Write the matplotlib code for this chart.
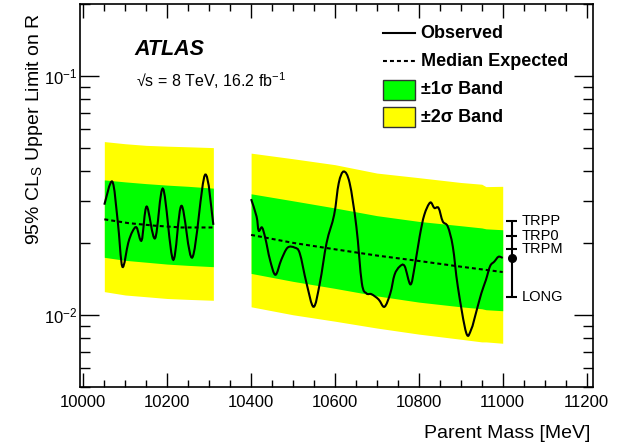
import numpy as np
import matplotlib
matplotlib.use("Agg")
import matplotlib.pyplot as plt
from matplotlib.ticker import MultipleLocator, LogLocator
from matplotlib.patches import Rectangle, PathPatch
from matplotlib.path import Path

plt.rcParams['font.family'] = ['Liberation Sans', 'DejaVu Sans']
plt.rcParams['mathtext.fontset'] = 'custom'
plt.rcParams['mathtext.rm'] = 'Liberation Sans'
plt.rcParams['mathtext.it'] = 'Liberation Sans:italic'
plt.rcParams['mathtext.bf'] = 'Liberation Sans:bold'

# first mass window
m1_band = [10050, 10100, 10150, 10200, 10250, 10310]
y1_2up = [0.0531, 0.0520, 0.0512, 0.0508, 0.0505, 0.0501]
y1_1up = [0.0367, 0.0360, 0.0354, 0.0349, 0.0345, 0.0339]
y1_1dn = [0.0174, 0.0169, 0.0166, 0.0163, 0.0161, 0.0159]
y1_2dn = [0.0125, 0.0121, 0.0119, 0.0117, 0.0116, 0.0115]
m1_exp = [10050, 10107, 10171, 10234, 10310]
y1_exp = [0.0251, 0.0242, 0.0236, 0.0232, 0.0232]
m1_obs = [10050, 10069, 10082, 10093, 10107, 10117, 10127, 10139, 10151,
          10171, 10190, 10214, 10234, 10260, 10290, 10310]
y1_obs = [0.0289, 0.0361, 0.0246, 0.0159, 0.0200, 0.0223, 0.0232, 0.0205,
          0.0284, 0.0209, 0.0337, 0.0170, 0.0286, 0.0174, 0.0385, 0.0238]

# second mass window
m2_band = [10400, 10500, 10600, 10700, 10800, 10900, 10950, 10960, 11000]
y2_2up = [0.0475, 0.0450, 0.0425, 0.0392, 0.0375, 0.0358, 0.0352, 0.0344, 0.0345]
y2_1up = [0.0321, 0.0300, 0.0280, 0.0260, 0.0246, 0.0236, 0.0231, 0.0229, 0.0227]
y2_1dn = [0.0149, 0.0138, 0.0129, 0.0120, 0.0113, 0.0108, 0.0106, 0.0105, 0.0104]
y2_2dn = [0.0108, 0.0100, 0.0094, 0.0088, 0.0083, 0.0079, 0.0077, 0.0077, 0.0076]
m2_exp = [10400, 10500, 10600, 10700, 10800, 10900, 11000]
y2_exp = [0.0216, 0.0200, 0.0188, 0.0177, 0.0168, 0.0159, 0.0151]
m2_obs = [10400, 10413, 10418, 10426, 10434, 10445, 10458, 10472, 10487,
          10504, 10516, 10532, 10549, 10564, 10580, 10598, 10609, 10621,
          10635, 10651, 10664, 10675, 10687, 10704, 10718, 10732, 10742,
          10754, 10766, 10780, 10790, 10802, 10813, 10827, 10837, 10847,
          10857, 10869, 10881, 10893, 10913, 10925, 10937, 10949, 10960,
          10970, 10980, 10990, 11000]
y2_obs = [0.0305, 0.0258, 0.0225, 0.0232, 0.0209, 0.0170, 0.0147, 0.0170,
          0.0191, 0.0191, 0.0181, 0.0136, 0.0108, 0.0136, 0.0200, 0.0262,
          0.0356, 0.0398, 0.0356, 0.0234, 0.0136, 0.0123, 0.0122, 0.0116,
          0.0108, 0.0123, 0.0147, 0.0159, 0.0160, 0.0134, 0.0159, 0.0213,
          0.0262, 0.0295, 0.0280, 0.0280, 0.0246, 0.0234, 0.0193, 0.0131,
          0.0084, 0.0087, 0.0103, 0.0123, 0.0140, 0.0160, 0.0167, 0.0175,
          0.0173]

# theory predictions
pred_m = 11022
pred_centre = 0.0173
pred_names = ['TRPP', 'TRP0', 'TRPM', 'LONG']
pred_vals = [0.0248, 0.0214, 0.0188, 0.0119]


def smooth(xs, ys):
    # smooth curve through the points (bezier segments in x, log y)
    p = np.column_stack([np.asarray(xs, float), np.log10(ys)])
    n = len(p)
    verts = [p[0]]
    codes = [Path.MOVETO]
    for i in range(n - 1):
        a = p[max(i - 1, 0)]
        d = p[min(i + 2, n - 1)]
        c1 = p[i] + (p[i + 1] - a) / 6
        c2 = p[i + 1] - (d - p[i]) / 6
        verts += [c1, c2, p[i + 1]]
        codes += [Path.CURVE4] * 3
    verts = np.array(verts)
    verts[:, 1] = 10 ** verts[:, 1]
    return Path(verts, codes)


fig = plt.figure(figsize=(6.34, 4.47), dpi=100)
ax = fig.add_axes([80/634, 1-386.7/447, 513.3/634, 382.7/447])

for mb, u2, u1, d1, d2 in [(m1_band, y1_2up, y1_1up, y1_1dn, y1_2dn),
                           (m2_band, y2_2up, y2_1up, y2_1dn, y2_2dn)]:
    ax.fill_between(mb, d2, u2, color='#ffff00', lw=0)
    ax.fill_between(mb, d1, u1, color='#00ff00', lw=0)

ax.plot(m1_exp, y1_exp, color='black', lw=1.5, dashes=(1.9, 1.45))
ax.plot(m2_exp, y2_exp, color='black', lw=1.5, dashes=(1.9, 1.45))
for mo, yo in [(m1_obs, y1_obs), (m2_obs, y2_obs)]:
    ax.add_patch(PathPatch(smooth(mo, yo), fill=False, edgecolor='black',
                           lw=1.5))

ax.vlines(pred_m, min(pred_vals), max(pred_vals), color='black', lw=1.5)
ax.hlines(pred_vals, pred_m - 15, pred_m + 13, color='black', lw=1.5)
ax.plot([pred_m], [pred_centre], 'o', color='black', ms=5.5)
for name, v in zip(pred_names, pred_vals):
    ax.text(pred_m + 24, v, name, fontsize=10.5, va='center', ha='left')

ax.set_yscale('log')
ax.set_xlim(9992, 11216)
ax.set_ylim(0.005, 0.2)
ax.xaxis.set_major_locator(MultipleLocator(200))
ax.xaxis.set_minor_locator(MultipleLocator(50))
ax.yaxis.set_minor_locator(LogLocator(base=10, subs=np.arange(2, 10)))
ax.tick_params(which='both', direction='in', top=True, right=True,
               width=1.0)
ax.tick_params(axis='x', which='major', length=10, labelsize=12, pad=6)
ax.tick_params(axis='x', which='minor', length=5)
ax.tick_params(axis='y', which='major', length=14, labelsize=12, pad=2)
ax.tick_params(axis='y', which='minor', length=7, labelleft=False)
for s in ax.spines.values():
    s.set_linewidth(1.2)

ax.text(0.9936, -0.121, 'Parent Mass [MeV]', transform=ax.transAxes,
        ha='right', va='center', fontsize=14)
ax.text(-0.0896, 0.9765, r'95% CL$_{\mathrm{S}}$ Upper Limit on R',
        transform=ax.transAxes, rotation=90, ha='center', va='top',
        fontsize=14)

ax.text(0.107, 0.88, 'ATLAS', transform=ax.transAxes, fontsize=15.5,
        fontweight='bold', fontstyle='italic', va='center', ha='left')
ax.text(0.110, 0.80, '√s = 8 TeV, 16.2 fb$^{-1}$', transform=ax.transAxes,
        fontsize=11.5, va='center', ha='left')

# legend
lx0, lx1, tx = 0.590, 0.652, 0.6636
rows = [0.9234, 0.851, 0.776, 0.7047]
ax.plot([lx0, lx1], [rows[0]]*2, color='black', lw=1.5,
        transform=ax.transAxes)
ax.plot([lx0, lx1], [rows[1]]*2, color='black', lw=1.5,
        dashes=(1.9, 1.45), transform=ax.transAxes)
bh = 0.052
ax.add_patch(Rectangle((lx0, rows[2]-bh/2), lx1-lx0, bh, facecolor='#00ff00',
                       edgecolor='#333333', lw=1.0, transform=ax.transAxes))
ax.add_patch(Rectangle((lx0, rows[3]-bh/2), lx1-lx0, bh, facecolor='#ffff00',
                       edgecolor='#333333', lw=1.0, transform=ax.transAxes))
labels = ['Observed', 'Median Expected', '±1σ Band', '±2σ Band']
for r, lab in zip(rows, labels):
    ax.text(tx, r, lab, transform=ax.transAxes, fontsize=13,
            fontweight='bold', va='center', ha='left')

fig.savefig('out.png', dpi=100)
